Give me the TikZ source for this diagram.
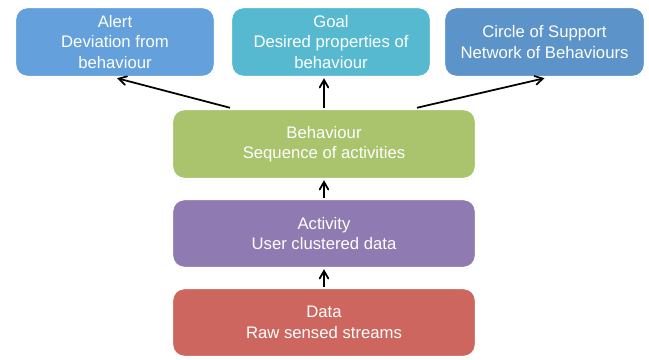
\documentclass[tikz,border=0pt]{standalone}
\usepackage{fontspec}
\setmainfont{Liberation Sans}
\usepackage{tikz}
\usetikzlibrary{arrows}
\usetikzlibrary{shadows}

\definecolor{alertblue}{HTML}{63A0DC}
\definecolor{goalteal}{HTML}{57B9D0}
\definecolor{supportblue}{HTML}{5C93C9}
\definecolor{behavgreen}{HTML}{A9C46C}
\definecolor{activpurple}{HTML}{8F7BB2}
\definecolor{datared}{HTML}{CD665E}

\tikzset{
  layer/.style={draw=white, line width=1.4pt, rounded corners=7pt, text=white,
    align=center, minimum height=1.4cm, inner sep=2pt,
    font=\fontsize{9.5}{11.6}\selectfont,
    drop shadow={shadow xshift=0.3pt, shadow yshift=-0.6pt, opacity=0.4, fill=gray}},
  link/.style={-angle 60, line width=1pt}
}

\begin{document}
\begin{tikzpicture}
          \useasboundingbox (0,0) rectangle (12.98,7.2);
          % top row
          \node[layer, fill=alertblue, minimum width=4cm] (alert) at (2.30, 6.36) {Alert\\Deviation from\\behaviour};
          \node[layer, fill=goalteal, minimum width=4cm] (goal) at (6.62, 6.36) {Goal\\Desired properties of\\behaviour};
          \node[layer, fill=supportblue, minimum width=4.02cm] (support) at (10.89, 6.36) {Circle of Support\\Network of Behaviours};
          % stack
          \node[layer, fill=behavgreen, minimum width=6.08cm] (behaviour) at (6.48, 4.32) {Behaviour\\Sequence of activities};
          \node[layer, fill=activpurple, minimum width=6.08cm, minimum height=1.38cm] (activity) at (6.48, 2.53) {Activity\\User clustered data};
          \node[layer, fill=datared, minimum width=6.08cm, minimum height=1.38cm] (data) at (6.48, 0.75) {Data\\Raw sensed streams};
          % arrows between layers
          \draw [link] (data) -- (activity);
          \draw [link] (activity) -- (behaviour);
          \draw [link] ([xshift=-1.88cm]behaviour.north) -- ([xshift=0.04cm]alert.south);
          \draw [link] (behaviour.north) -- (behaviour.north |- goal.south);
          \draw [link] ([xshift=1.86cm]behaviour.north) -- (support.south);
        \end{tikzpicture}
\end{document}
